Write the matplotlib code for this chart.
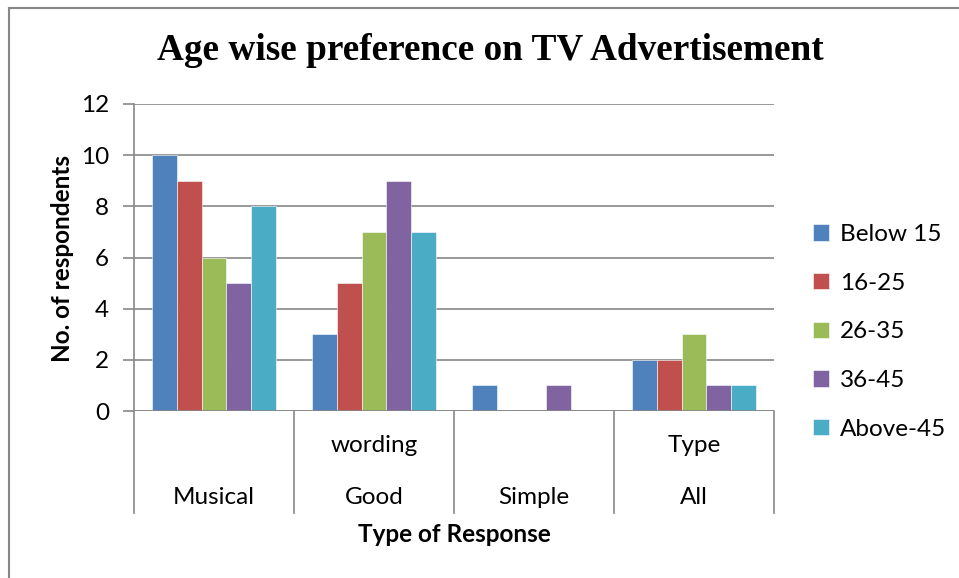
import matplotlib.pyplot as plt
import numpy as np
from matplotlib.lines import Line2D

categories = ["Musical", "Good wording", "Simple", "All Type"]
top_labels = ["", "wording", "", "Type"]
bottom_labels = ["Musical", "Good", "Simple", "All"]
groups = ["Below 15", "16-25", "26-35", "36-45", "Above-45"]
below_15 = [10, 3, 1, 2]
age_16_25 = [9, 5, 0, 2]
age_26_35 = [6, 7, 0, 3]
age_36_45 = [5, 9, 1, 1]
above_45 = [8, 7, 0, 1]
series = [below_15, age_16_25, age_26_35, age_36_45, above_45]
colors = ["#4F81BD", "#C0504D", "#9BBB59", "#8064A2", "#4BACC6"]

W, H = 959, 578
fig = plt.figure(figsize=(W / 100, H / 100), dpi=100)
plt.rcParams['font.family'] = ['Lato', 'DejaVu Sans']
grey = "#878787"
fs = 17.5

# outer chart border
fig.add_artist(Line2D([9 / W, 9 / W], [0, 1 - 8 / H], color=grey, lw=1.5))
fig.add_artist(Line2D([9 / W, 1], [1 - 8 / H, 1 - 8 / H], color=grey, lw=1.5))

ax = fig.add_axes([134 / W, 1 - 411 / H, (774 - 134) / W, (411 - 104) / H])
x = np.arange(len(categories))
bw = 0.77 / 5
bars = []
for i, vals in enumerate(series):
    b = ax.bar(x - 0.385 + bw * (i + 0.5), vals, bw, color=colors[i], label=groups[i],
               edgecolor="white", linewidth=0.4, zorder=3)
    bars.append(b)

ax.set_xlim(-0.5, len(categories) - 0.5)
ax.set_ylim(0, 12)
ax.set_yticks(range(0, 13, 2))
ax.yaxis.grid(True, color=grey, lw=1.2, zorder=0)
for s in ["top", "right", "bottom"]:
    ax.spines[s].set_visible(False)
ax.spines["left"].set_color(grey)
ax.spines["left"].set_linewidth(1.2)
ax.tick_params(axis="y", length=8, width=1.2, color=grey, labelsize=fs, pad=10)
ax.tick_params(axis="x", length=0, labelbottom=False)

# category separators below the axis
depth = (513 - 411) / (411 - 104)
for b in np.arange(-0.5, len(categories), 1.0):
    ax.plot([b, b], [0, -depth], transform=ax.get_xaxis_transform(), color=grey, lw=1.2, clip_on=False)
ax.axhline(0, color=grey, lw=1.2, zorder=4)

for i in range(len(categories)):
    ax.text(i, -(446 - 411) / 307, top_labels[i], transform=ax.get_xaxis_transform(),
            ha="center", va="center", fontsize=fs)
    ax.text(i, -(497 - 411) / 307, bottom_labels[i], transform=ax.get_xaxis_transform(),
            ha="center", va="center", fontsize=fs)

fig.text(454 / W, 1 - 535 / H, "Type of Response", ha="center", va="center",
         fontsize=fs, fontweight="bold")
fig.text(62 / W, 1 - 258 / H, "No. of respondents", ha="center", va="center",
         rotation=90, fontsize=fs, fontweight="bold")
fig.text(490 / W, 1 - 50 / H, "Age wise preference on TV Advertisement", ha="center", va="center",
         fontsize=26.8, fontweight="bold", family="Liberation Serif")

ax.legend(handles=bars, loc="upper left", bbox_to_anchor=(813 / W, 1 - 224 / H),
          bbox_transform=fig.transFigure, frameon=False, fontsize=fs,
          handlelength=0.65, handleheight=0.65, handletextpad=0.45, labelspacing=1.14,
          borderaxespad=0, borderpad=0)

fig.savefig("out.png", dpi=100)
